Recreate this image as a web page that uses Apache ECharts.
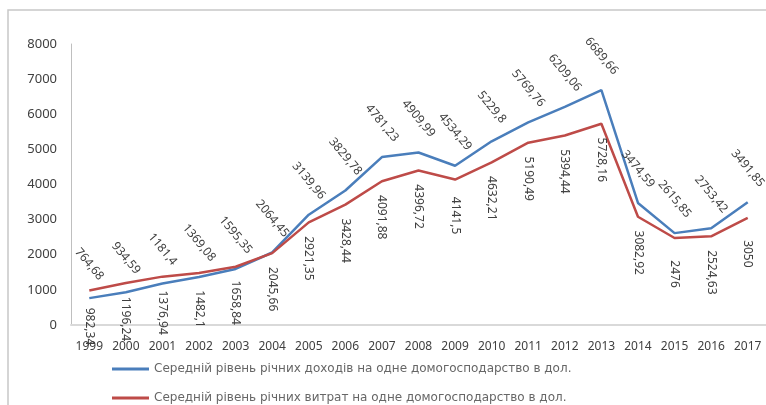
<!DOCTYPE html>
<html>
<head>
<meta charset="utf-8">
<script src="https://cdn.jsdelivr.net/npm/echarts@6/dist/echarts.min.js"></script>
<style>
  html, body { margin: 0; padding: 0; background: #fff; }
  #chart { width: 766px; height: 405px; }
</style>
</head>
<body>
<div id="chart"></div>
<script>
// роки
var years = ["1999", "2000", "2001", "2002", "2003", "2004", "2005", "2006", "2007", "2008",
  "2009", "2010", "2011", "2012", "2013", "2014", "2015", "2016", "2017"];
// доходи
var income = [764.68, 934.59, 1181.4, 1369.08, 1595.35, 2064.45, 3139.96, 3829.78, 4781.23, 4909.99,
  4534.29, 5229.8, 5769.76, 6209.06, 6689.66, 3474.59, 2615.85, 2753.42, 3491.85];
// витрати (останнє значення обрізане на картинці, оцінка)
var expenses = [982.34, 1196.24, 1376.94, 1482.1, 1658.84, 2045.66, 2921.35, 3428.44, 4091.88, 4396.72,
  4141.5, 4632.21, 5190.49, 5394.44, 5728.16, 3082.92, 2476, 2524.63, 3050];
var seriesNames = [
  "Середній рівень річних доходів на одне домогосподарство в дол.",
  "Середній рівень річних витрат на одне домогосподарство в дол."
];
var colors = ["#4a7ebb", "#be4b48"];

function fmt(v) {
  return String(v).replace(".", ",");
}

var legendBase = {
  orient: "horizontal",
  left: 107,
  itemWidth: 37,
  itemHeight: 3,
  itemGap: 5,
  icon: "rect",
  textStyle: { color: "#666666", fontSize: 12, fontFamily: "DejaVu Sans" }
};

var chart = echarts.init(document.getElementById("chart"));
chart.setOption({
  animation: false,
  textStyle: { fontFamily: "Noto Sans" },
  graphic: [{
    type: "rect",
    shape: { x: 8, y: 10, width: 900, height: 600 },
    style: { fill: "none", stroke: "#c8c8c8", lineWidth: 1.5 },
    silent: true
  }],
  grid: { left: 71, top: 44, width: 698, height: 281 },
  legend: [
    Object.assign({}, legendBase, { top: 358, data: [seriesNames[0]] }),
    Object.assign({}, legendBase, { top: 387, data: [seriesNames[1]] })
  ],
  xAxis: {
    type: "category",
    data: years,
    boundaryGap: true,
    axisLine: { lineStyle: { color: "#d9d9d9", width: 2 } },
    axisTick: { show: false },
    axisLabel: { color: "#404040", fontSize: 12, margin: 16, interval: 0 }
  },
  yAxis: {
    type: "value",
    min: 0,
    max: 8000,
    interval: 1000,
    splitLine: { show: false },
    axisLine: { show: true, lineStyle: { color: "#bfbfbf" } },
    axisTick: { show: false },
    axisLabel: {
      color: "#404040", fontSize: 13, margin: 14,
      formatter: function (v) { return String(v); }
    }
  },
  series: [
    {
      name: seriesNames[0],
      type: "line",
      data: income,
      color: colors[0],
      symbol: "circle",
      symbolSize: 0.01,
      showSymbol: true,
      lineStyle: { width: 2.5 },
      label: {
        show: true,
        position: "top",
        distance: 34,
        rotate: -50,
        align: "center",
        verticalAlign: "middle",
        color: "#404040",
        fontSize: 12,
        formatter: function (p) { return fmt(p.value); }
      }
    },
    {
      name: seriesNames[1],
      type: "line",
      data: expenses,
      color: colors[1],
      symbol: "circle",
      symbolSize: 0.01,
      showSymbol: true,
      lineStyle: { width: 2.5 },
      label: {
        show: true,
        position: "bottom",
        distance: 36,
        rotate: -90,
        align: "center",
        verticalAlign: "middle",
        color: "#404040",
        fontSize: 12,
        formatter: function (p) { return fmt(p.value); }
      }
    }
  ]
});
</script>
</body>
</html>
